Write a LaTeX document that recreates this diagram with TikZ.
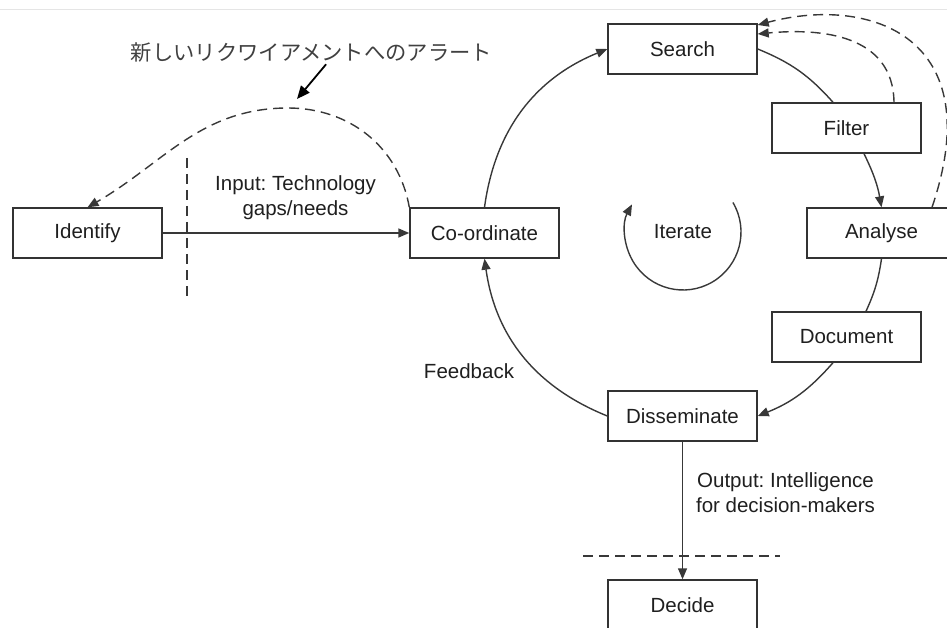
\documentclass[tikz,border=0pt]{standalone}
\usepackage{fontspec}
\setmainfont{Liberation Sans}
\newfontfamily\jpfont{Noto Sans CJK JP}
\usetikzlibrary{arrows.meta}
\frenchspacing
\begin{document}
\begin{tikzpicture}[x=1pt,y=1pt,
  every node/.style={font=\fontsize{20.5}{25}\selectfont, text=black!88},
  stage/.style={draw=black!80, line width=1.4pt, minimum width=149pt,
                minimum height=50pt, inner sep=0pt},
  link/.style={draw=black!78, line width=1.4pt},
  flow/.style={link, -{Triangle[length=11pt,width=9pt]}},
  dashflow/.style={flow, dash pattern=on 10pt off 6pt},
  divider/.style={link, dash pattern=on 10pt off 6pt},
  pointer/.style={draw=black, line width=1.8pt, -{Triangle[length=13pt,width=11pt]}},
]
\useasboundingbox (0,0) rectangle (947,-628);
\draw[black!10, line width=1pt] (0,-10) -- (947,-10);

% process stages
\node[stage] (identify) at (87.5,-233)  {Identify};
\node[stage] (coord)    at (484.5,-233) {Co-ordinate};
\node[stage] (search)   at (682.5,-49)  {Search};
\node[stage] (filter)   at (846.5,-128) {Filter};
\node[stage] (analyse)  at (881.5,-233) {Analyse};
\node[stage] (document) at (846.5,-337) {Document};
\node[stage] (dissem)   at (682.5,-416) {Disseminate};
\node[stage] (decide)   at (682.5,-605) {Decide};

% labels
\node[align=center] (inlabel)  at (295.5,-197.5) {Input: Technology\\gaps/needs};
\node[align=center] (outlabel) at (785.5,-493)   {Output: Intelligence\\for decision-makers};
\node (feedback) at (469,-371) {Feedback};
\node (iter) at (683,-232) {Iterate};
\node[font=\jpfont\fontsize{21.3}{25}\selectfont, text=black!75, inner sep=0pt]
  (alert) at (311.5,-52) {新しいリクワイアメントへのアラート};

% main cycle
\draw[flow] (coord.north) to[bend left=30] (search.west);
\draw[link] (search.east) to[bend left=13] ([xshift=-13.5pt]filter.north);
\draw[flow] ([xshift=17.5pt]filter.south) to[bend left=8] (analyse.north);
\draw[link] (analyse.south) to[bend left=8] ([xshift=19.5pt]document.north);
\draw[flow] ([xshift=-13.5pt]document.south) to[bend left=13.5] (dissem.east);
\draw[flow] (dissem.west) to[bend left=30] (coord.south);

% iteration loop
\draw[flow] ([shift={(30.6:58)}]iter.center) arc[start angle=30.6, end angle=-208.4, radius=58];

% input and output
\draw[flow] (identify.east) -- (coord.west);
\draw[flow] (dissem.south) -- (decide.north);
\draw[divider] (187,-158) -- (187,-302);
\draw[divider] (583,-556) -- (780,-556);

% loops back to search
\draw[dashflow] ([xshift=47.5pt]filter.north) .. controls +(-1,68) and +(63,6) .. ([yshift=15pt]search.east);
\draw[dashflow] ([xshift=50.5pt]analyse.north) .. controls +(58,170) and +(113,30) .. ([yshift=24pt]search.east);

% alert for new requirements
\coordinate (alertpeak) at (288,-108);
\coordinate (alerttip) at (297,-99);
\draw[dashflow] (coord.north west) to[out=100,in=0] (alertpeak) to[out=180,in=30] (identify.north);
\draw[pointer, shorten <=3pt] ([xshift=16.5pt]alert.south) -- (alerttip);
\end{tikzpicture}
\end{document}
